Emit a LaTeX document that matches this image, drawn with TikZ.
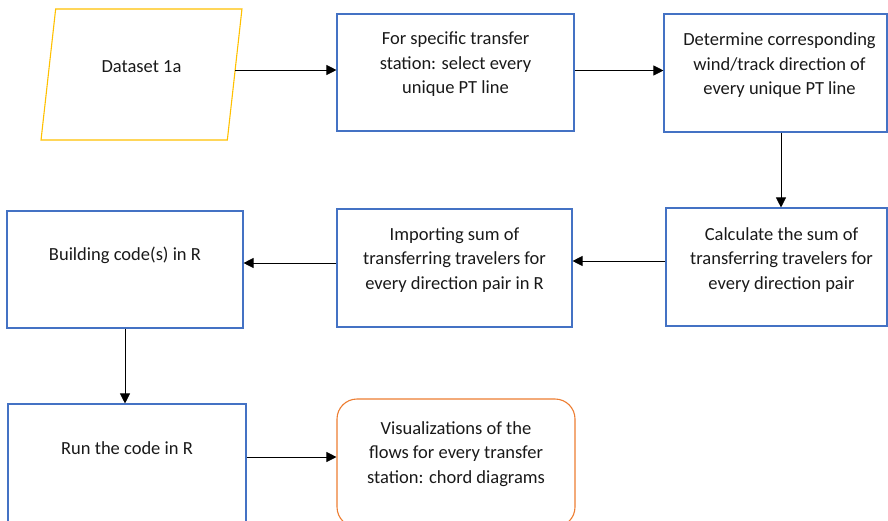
\documentclass[tikz,border=0pt]{standalone}
\usepackage{fontspec}
\setmainfont{Carlito}
\usetikzlibrary{arrows.meta,shapes.geometric,calc}
\definecolor{boxblue}{HTML}{4472C4}
\definecolor{datagold}{HTML}{FFC000}
\definecolor{endorange}{HTML}{ED7D31}
\tikzset{
  procbox/.style={draw=boxblue, line width=1.1pt, rectangle, inner sep=0pt},
  endbox/.style={draw=endorange, line width=1.1pt, rectangle, rounded corners=20pt, inner sep=0pt},
  databox/.style={draw=datagold, line width=1.1pt, trapezium, trapezium left angle=76.3,
    trapezium right angle=103.7, trapezium stretches=true, inner sep=0pt},
  label text/.style={align=center, inner sep=0pt, text=black!90,
    font=\fontsize{18.5pt}{24.5pt}\selectfont},
  flow/.style={line width=0.8pt, -{Triangle[length=10pt,width=10pt]}}
}
\begin{document}
\begin{tikzpicture}[x=1pt,y=-1pt]
\useasboundingbox (0,0) rectangle (888,520);

% input data (parallelogram carries its own text, lifted by extra depth)
\node[databox, minimum width=203pt, minimum height=131pt, text=black!90,
  font=\fontsize{18.5pt}{24.5pt}\selectfont, text depth=16pt] (ds) at (141.5,74.5) {Dataset 1a};

% process boxes
\node[procbox, minimum width=237pt, minimum height=117pt] (sel) at (455.5,72.5) {};
\node[procbox, minimum width=223pt, minimum height=118pt] (dir) at (775.5,73) {};
\node[procbox, minimum width=221pt, minimum height=118pt] (sum) at (776.5,267) {};
\node[procbox, minimum width=235pt, minimum height=118pt] (imp) at (454.5,268) {};
\node[procbox, minimum width=236pt, minimum height=117pt] (build) at (125,269.5) {};
\node[procbox, minimum width=238pt, minimum height=124pt] (run) at (127,466) {};
\node[endbox, minimum width=238pt, minimum height=128pt] (vis) at (456,463) {};

% box texts
\node[label text] (selt) at ([yshift=8pt]sel.center) {For specific transfer\\station: select every\\unique PT line};
\node[label text] (dirt) at ([xshift=4pt,yshift=7.5pt]dir.center) {Determine corresponding\\wind/track direction of\\every unique PT line};
\node[label text] (sumt) at ([xshift=5pt,yshift=7pt]sum.center) {Calculate the sum of\\transferring travelers for\\every direction pair};
\node[label text] (impt) at ([yshift=8pt]imp.center) {Importing sum of\\transferring travelers for\\every direction pair in R};
\node[label text] (buildt) at ([yshift=14.5pt]build.center) {Building code(s) in R};
\node[label text] (runt) at ([yshift=18pt]run.center) {Run the code in R};
\node[label text] (vist) at ([yshift=9pt]vis.center) {Visualizations of the\\flows for every transfer\\station: chord diagrams};

% connectors
\draw[flow] ([yshift=4.5pt]ds.east) -- ([yshift=4.5pt]ds.east -| sel.west);
\draw[flow] ([yshift=2pt]sel.east) -- ([yshift=2pt]sel.east -| dir.west);
\draw[flow] ([xshift=5.5pt]dir.south) -- ([xshift=5.5pt]dir.south |- sum.north);
\draw[flow] ([yshift=6pt]sum.west) -- ([yshift=6pt]sum.west -| imp.east);
\draw[flow] ([yshift=5pt]imp.west) -- ([yshift=5pt]imp.west -| build.east);
\draw[flow] (build.south) -- (build.south |- run.north);
\draw[flow] ([yshift=9pt]run.east) -- ([yshift=9pt]run.east -| vis.west);
\end{tikzpicture}
\end{document}
